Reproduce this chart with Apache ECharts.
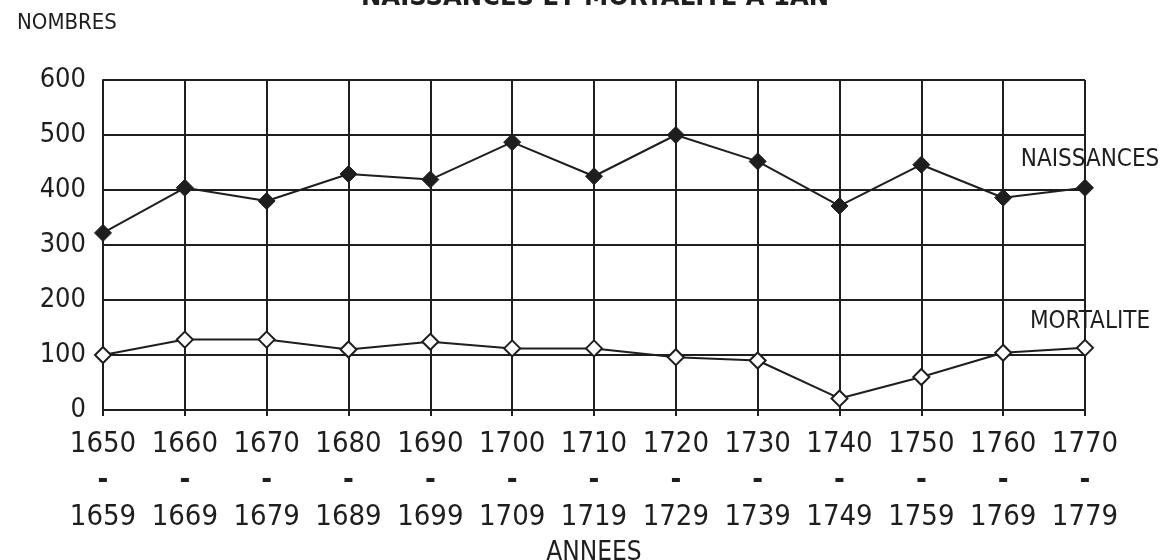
<!DOCTYPE html>
<html>
<head>
<meta charset="utf-8">
<script src="https://cdn.jsdelivr.net/npm/echarts@6/dist/echarts.min.js"></script>
<style>
html,body{margin:0;padding:0;background:#fff;}
#c{width:1163px;height:560px;}
</style>
</head>
<body>
<div id="c"></div>
<script>
var periods = ['1650\n-\n1659','1660\n-\n1669','1670\n-\n1679','1680\n-\n1689','1690\n-\n1699','1700\n-\n1709','1710\n-\n1719','1720\n-\n1729','1730\n-\n1739','1740\n-\n1749','1750\n-\n1759','1760\n-\n1769','1770\n-\n1779'];
var naissances = [322, 404, 380, 429, 419, 487, 425, 500, 452, 371, 446, 386, 404];
var mortalite = [100, 128, 128, 110, 124, 112, 112, 96, 90, 21, 60, 104, 113];
var yTicks = [0, 100, 200, 300, 400, 500, 600];

var FONT = '"DejaVu Sans Condensed", "DejaVu Sans", sans-serif';
var INK = '#1e1e1e';

function endLabel(name, arr, dist) {
  return {
    show: true,
    position: 'top',
    distance: dist,
    offset: [5, 0],
    color: INK,
    fontFamily: FONT,
    fontSize: 24,
    formatter: function (p) { return p.dataIndex === arr.length - 1 ? name : ''; }
  };
}

var chart = echarts.init(document.getElementById('c'), null, {renderer: 'canvas'});
chart.setOption({
  backgroundColor: '#fff',
  animation: false,
  title: {
    text: 'NAISSANCES ET MORTALITE A 1AN',
    left: 356,
    top: -21,
    textStyle: {fontFamily: FONT, fontSize: 27, fontWeight: 'bold', color: INK}
  },
  graphic: [
    {type: 'text', left: 17, top: 12, style: {text: 'NOMBRES', fontFamily: FONT, fontSize: 22, fill: INK}}
  ],
  grid: {left: 103, right: 78, top: 80, bottom: 150, show: false, outerBoundsMode: 'none'},
  xAxis: {
    type: 'category',
    data: periods,
    boundaryGap: false,
    name: 'ANNEES',
    nameLocation: 'middle',
    nameGap: 122,
    nameTextStyle: {fontFamily: FONT, fontSize: 26, color: INK},
    axisLine: {show: true, lineStyle: {color: INK, width: 2}},
    axisTick: {show: true, length: 6, lineStyle: {color: INK, width: 2}},
    axisLabel: {
      fontFamily: FONT, fontSize: 29, color: INK, margin: 16, lineHeight: 36.5, interval: 0,
      formatter: function (v) {
        var p = v.split('\n');
        return '{a|' + p[0] + '}\n{d|' + p[1] + '}\n{a|' + p[2] + '}';
      },
      rich: {
        a: {fontFamily: FONT, fontSize: 29, color: INK, lineHeight: 36.5},
        d: {fontFamily: FONT, fontSize: 29, fontWeight: 'bold', color: INK, lineHeight: 36.5}
      }
    },
    splitLine: {show: true, lineStyle: {color: INK, width: 2}}
  },
  yAxis: {
    type: 'value',
    min: yTicks[0],
    max: yTicks[yTicks.length - 1],
    interval: 100,
    axisLine: {show: true, lineStyle: {color: INK, width: 2}},
    axisTick: {show: false},
    axisLabel: {fontFamily: FONT, fontSize: 27, color: INK, margin: 17},
    splitLine: {show: true, lineStyle: {color: INK, width: 2}}
  },
  series: [
    {
      name: 'NAISSANCES',
      type: 'line',
      data: naissances,
      symbol: 'diamond',
      symbolSize: 17,
      itemStyle: {color: INK, borderColor: INK, borderWidth: 1},
      lineStyle: {color: INK, width: 2},
      label: endLabel('NAISSANCES', naissances, 7),
      z: 3
    },
    {
      name: 'MORTALITE',
      type: 'line',
      data: mortalite,
      symbol: 'diamond',
      symbolSize: 16,
      itemStyle: {color: '#fff', borderColor: INK, borderWidth: 2},
      lineStyle: {color: INK, width: 2},
      label: endLabel('MORTALITE', mortalite, 5),
      z: 3
    }
  ]
});
</script>
</body>
</html>
